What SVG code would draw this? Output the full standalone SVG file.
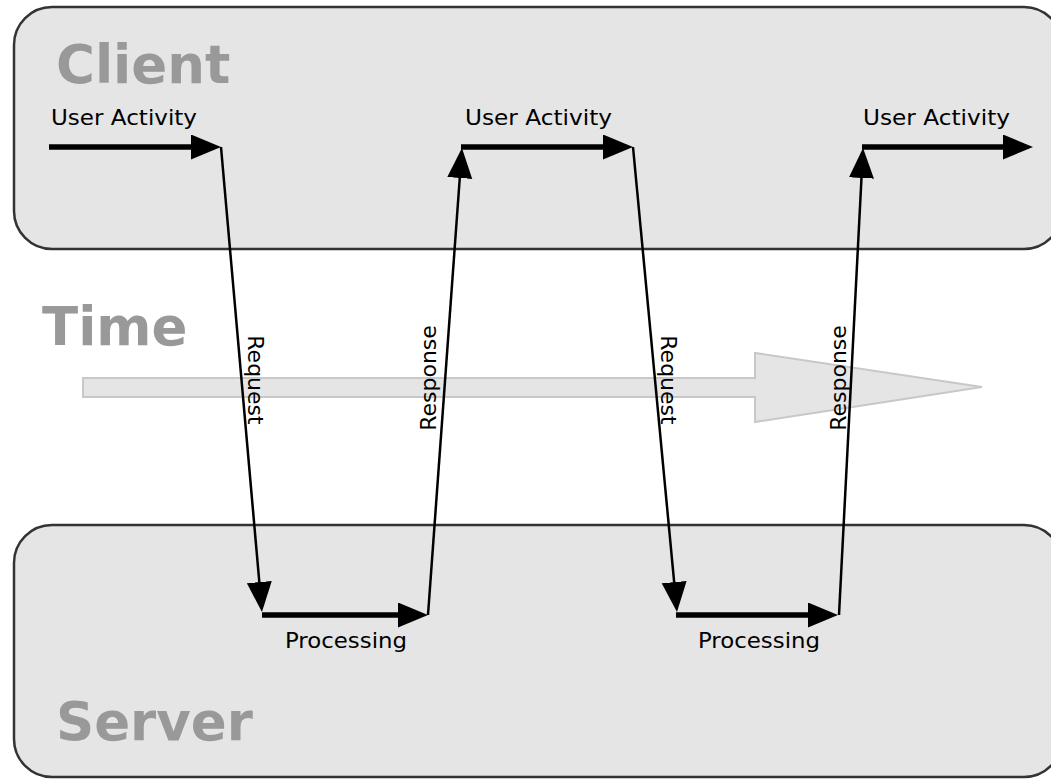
<svg xmlns="http://www.w3.org/2000/svg" width="1051" height="779" viewBox="0 0 1051 779">
<style>
.box{fill:#e5e5e5;stroke:#333;stroke-width:2.5}
.big{font-family:"DejaVu Sans",sans-serif;font-weight:bold;font-size:53px;fill:#999}
.lbl{font-family:"DejaVu Sans",sans-serif;font-size:22px;fill:#000}
.thick{fill:none;stroke:#000;stroke-width:5.5;marker-end:url(#ah)}
.thin{fill:none;stroke:#000;stroke-width:2.5;marker-end:url(#ah)}
</style>
<defs>
<marker id="ah" markerUnits="userSpaceOnUse" markerWidth="32" markerHeight="27" refX="10" refY="12.5" orient="auto" viewBox="0 0 32 27">
<path d="M0,0 L30,12.5 L0,25 z" fill="#000"/>
</marker>
</defs>
<rect width="1051" height="779" fill="#fff"/>
<g id="client">
<rect class="box" x="14" y="7" width="1048" height="242" rx="38" ry="38"/>
<text class="big" x="56" y="83">Client</text>
</g>
<g id="server">
<rect class="box" x="14" y="525" width="1048" height="252" rx="38" ry="38"/>
<text class="big" x="56" y="740">Server</text>
</g>
<g id="time">
<path d="M83,378 L755,378 L755,353 L982,387 L755,422 L755,397 L83,397 z" fill="#e5e5e5" stroke="#c8c8c8" stroke-width="2"/>
<text class="big" x="42" y="345">Time</text>
</g>
<g id="connectors">
<path class="thick" d="M49,147 L201,147"/>
<path class="thin" d="M221,147 L260.2,592.1"/>
<path class="thick" d="M262,615 L408,615"/>
<path class="thin" d="M428,615 L460.5,168"/>
<path class="thick" d="M461,147 L613,147"/>
<path class="thin" d="M633,147 L675.1,592.1"/>
<path class="thick" d="M676,615 L818,615"/>
<path class="thin" d="M839,615 L862,168"/>
<path class="thick" d="M862,147 L1013,147"/>
</g>
<g id="labels">
<text class="lbl" x="51" y="125" textLength="146" lengthAdjust="spacingAndGlyphs">User Activity</text>
<text class="lbl" x="465" y="125" textLength="147" lengthAdjust="spacingAndGlyphs">User Activity</text>
<text class="lbl" x="863" y="125" textLength="147" lengthAdjust="spacingAndGlyphs">User Activity</text>
<text class="lbl" x="285" y="648" textLength="122" lengthAdjust="spacingAndGlyphs">Processing</text>
<text class="lbl" x="698" y="648" textLength="122" lengthAdjust="spacingAndGlyphs">Processing</text>
<text class="lbl" transform="translate(248,380) rotate(90)" text-anchor="middle">Request</text>
<text class="lbl" transform="translate(436,378) rotate(-90)" text-anchor="middle">Response</text>
<text class="lbl" transform="translate(661,380) rotate(90)" text-anchor="middle">Request</text>
<text class="lbl" transform="translate(846,378) rotate(-90)" text-anchor="middle">Response</text>
</g>
</svg>
